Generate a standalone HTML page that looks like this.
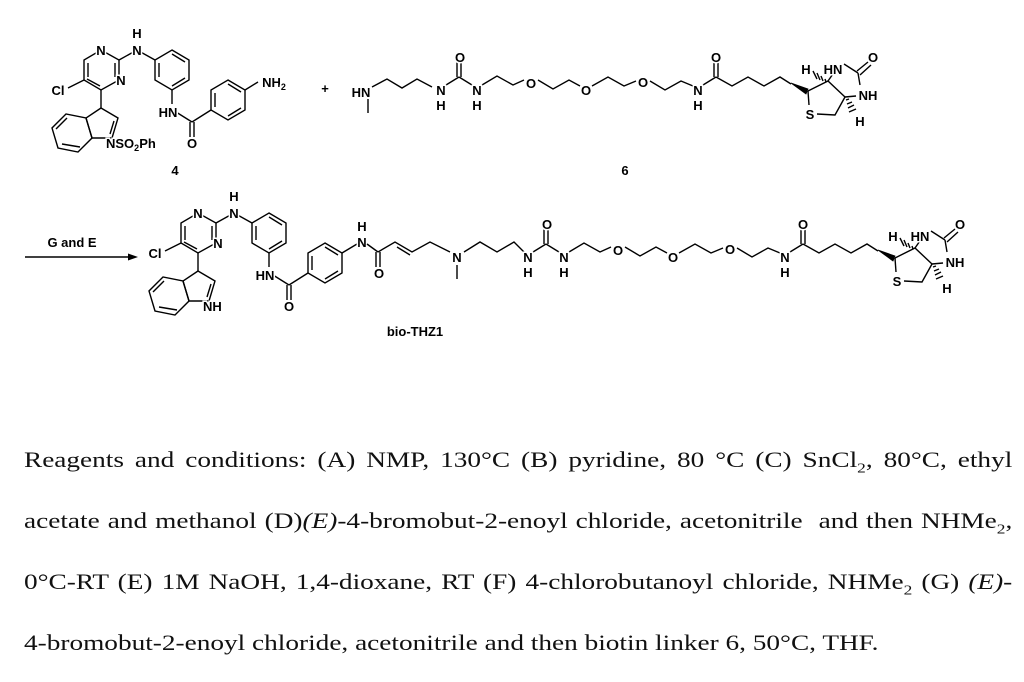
<!DOCTYPE html>
<html><head><meta charset="utf-8">
<style>
html,body{margin:0;padding:0;background:#fff;}
body{width:1024px;height:682px;position:relative;overflow:hidden;}
svg{position:absolute;left:0;top:0;}
svg text{font-family:"Liberation Sans",sans-serif;font-weight:bold;font-size:13px;fill:#000;stroke:#fff;stroke-width:3px;paint-order:stroke;text-anchor:middle;}
svg line,svg polyline,svg polygon.r{stroke:#000;stroke-width:1.4;fill:none;}
.ln{position:absolute;left:24px;width:797px;transform:scaleX(1.24);transform-origin:0 0;font-family:"Liberation Serif",serif;font-size:22px;line-height:26px;color:#111;text-align:justify;text-align-last:justify;white-space:nowrap;}
.ln.last{text-align-last:left;}
.ln sub{font-size:14px;line-height:0;}
</style></head><body>
<svg width="1024" height="682" viewBox="0 0 1024 682">
<defs>
<g id="core">
 <polygon class="r" points="101,50 119,60 119,80 101,90 84,80 84,60"/>
 <line x1="88" y1="63" x2="88" y2="77"/>
 <line x1="115" y1="63" x2="115" y2="77"/>
 <line x1="100" y1="86" x2="87" y2="79"/>
 <line x1="119" y1="60" x2="137" y2="50"/>
 <line x1="137" y1="50" x2="155" y2="60"/>
 <polygon class="r" points="172,50 189,60 189,80 172,90 155,80 155,60"/>
 <line x1="172" y1="54" x2="185" y2="62"/>
 <line x1="185" y1="78" x2="172" y2="86"/>
 <line x1="159" y1="63" x2="159" y2="77"/>
 <line x1="172" y1="90" x2="172" y2="104"/>
 <line x1="176" y1="112" x2="192" y2="122"/>
 <line x1="190" y1="122" x2="190" y2="137"/>
 <line x1="194" y1="122" x2="194" y2="137"/>
 <line x1="192" y1="122" x2="211" y2="110"/>
 <polygon class="r" points="228,80 245,90 245,110 228,120 211,110 211,90"/>
 <line x1="228" y1="84" x2="241" y2="92"/>
 <line x1="241" y1="108" x2="228" y2="116"/>
 <line x1="215" y1="93" x2="215" y2="107"/>
 <line x1="84" y1="80" x2="68" y2="88"/>
 <line x1="101" y1="90" x2="101" y2="108"/>
 <polygon class="r" points="101,108 118,118 112,138 92,138 86,118"/>
 <line x1="114" y1="121" x2="110" y2="134"/>
 <polygon class="r" points="86,118 92,138 78,152 58,148 52,128 66,114"/>
 <line x1="80" y1="147" x2="62" y2="144"/>
 <line x1="56" y1="129" x2="67" y2="118"/>
 <text x="101" y="55">N</text>
 <text x="121" y="85">N</text>
 <text x="137" y="55">N</text>
 <text x="137" y="38">H</text>
 <text x="168" y="117">HN</text>
 <text x="192" y="148">O</text>
 <text x="58" y="95">Cl</text>
</g>
<g id="chainR">
 <line x1="533" y1="252" x2="546" y2="244"/>
 <line x1="544" y1="244" x2="544" y2="229"/>
 <line x1="548" y1="244" x2="548" y2="229"/>
 <line x1="546" y1="244" x2="559" y2="252"/>
 <polyline points="569,252 584,243 600,252 611,247"/>
 <polyline points="625,247 640,256 656,247 667,253"/>
 <polyline points="679,253 695,244 711,253 723,248"/>
 <polyline points="737,248 752,257 768,248 780,253"/>
 <line x1="790" y1="252" x2="803" y2="244"/>
 <line x1="801" y1="244" x2="801" y2="229"/>
 <line x1="805" y1="244" x2="805" y2="229"/>
 <polyline points="803,244 819,253 835,244 851,253 867,244 878,251"/>
 <polygon points="878,250 895,256 893,261" fill="#000" stroke="#000" stroke-width="0.8"/>
 <line x1="895" y1="258" x2="896" y2="272"/>
 <polyline points="904,281 922,282 932,264 915,248 895,258"/>
 <line x1="915" y1="248" x2="922" y2="238"/>
 <line x1="931" y1="231" x2="945" y2="240"/>
 <line x1="944" y1="238" x2="955" y2="229"/>
 <line x1="947" y1="242" x2="958" y2="232"/>
 <line x1="945" y1="240" x2="947" y2="252"/>
 <line x1="943" y1="263" x2="932" y2="264"/>
 <g stroke="#000" stroke-width="1">
  <line x1="912" y1="246" x2="913" y2="249"/><line x1="908" y1="243" x2="910" y2="248"/><line x1="904" y1="240" x2="907" y2="247"/><line x1="900" y1="238" x2="904" y2="246"/>
  <line x1="933" y1="267" x2="936" y2="266"/><line x1="934" y1="271" x2="939" y2="269"/><line x1="935" y1="275" x2="941" y2="272"/><line x1="936" y1="279" x2="943" y2="276"/>
 </g>
 <text x="528" y="262">N</text><text x="528" y="277">H</text>
 <text x="547" y="229">O</text>
 <text x="564" y="262">N</text><text x="564" y="277">H</text>
 <text x="618" y="255">O</text>
 <text x="673" y="262">O</text>
 <text x="730" y="254">O</text>
 <text x="785" y="262">N</text><text x="785" y="277">H</text>
 <text x="803" y="229">O</text>
 <text x="897" y="286">S</text>
 <text x="920" y="241">HN</text>
 <text x="893" y="241">H</text>
 <text x="960" y="229">O</text>
 <text x="955" y="267">NH</text>
 <text x="947" y="293">H</text>
</g>
</defs>

<use href="#core"/>
<line x1="245" y1="90" x2="258" y2="82"/>
<text x="274" y="87">NH<tspan font-size="9" dy="3">2</tspan></text>
<text x="106" y="148" style="text-anchor:start">NSO<tspan font-size="9" dy="3">2</tspan><tspan dy="-3">Ph</tspan></text>
<text x="175" y="175">4</text>
<text x="325" y="93">+</text>

<text x="361" y="97">HN</text>
<line x1="368" y1="99" x2="368" y2="113"/>
<polyline points="372,87 387,79 402,88 417,79 432,87"/>
<g transform="translate(-87,-167)"><use href="#chainR"/></g>
<text x="625" y="175">6</text>

<line x1="25" y1="257" x2="130" y2="257"/>
<polygon points="138,257 128,253.5 128,260.5" fill="#000"/>
<text x="72" y="247">G and E</text>

<g transform="translate(97,163)"><use href="#core"/></g>
<text x="203" y="311" style="text-anchor:start">NH</text>
<line x1="342" y1="253" x2="357" y2="244"/>
<text x="362" y="247">N</text>
<text x="362" y="231">H</text>
<line x1="367" y1="244" x2="378" y2="252"/>
<line x1="376" y1="252" x2="376" y2="267"/>
<line x1="380" y1="252" x2="380" y2="267"/>
<text x="379" y="278">O</text>
<polyline points="378,252 395,242 412,252 430,242 450,252"/>
<line x1="397" y1="247" x2="410" y2="255"/>
<text x="457" y="262">N</text>
<line x1="457" y1="265" x2="457" y2="279"/>
<polyline points="464,252 480,242 497,252 514,242 524,252"/>
<use href="#chainR"/>
<text x="415" y="336">bio-THZ1</text>
</svg>

<div class="ln" style="top:447px">Reagents and conditions: (A) NMP, 130°C (B) pyridine, 80 °C (C) SnCl<sub>2</sub>, 80°C, ethyl</div>
<div class="ln" style="top:508px">acetate and methanol (D)<i>(E)</i>-4-bromobut-2-enoyl chloride, acetonitrile &nbsp;and then NHMe<sub>2</sub>,</div>
<div class="ln" style="top:569px">0°C-RT (E) 1M NaOH, 1,4-dioxane, RT (F) 4-chlorobutanoyl chloride, NHMe<sub>2</sub> (G) <i>(E)</i>-</div>
<div class="ln last" style="top:630px">4-bromobut-2-enoyl chloride, acetonitrile and then biotin linker 6, 50°C, THF.</div>
</body></html>
